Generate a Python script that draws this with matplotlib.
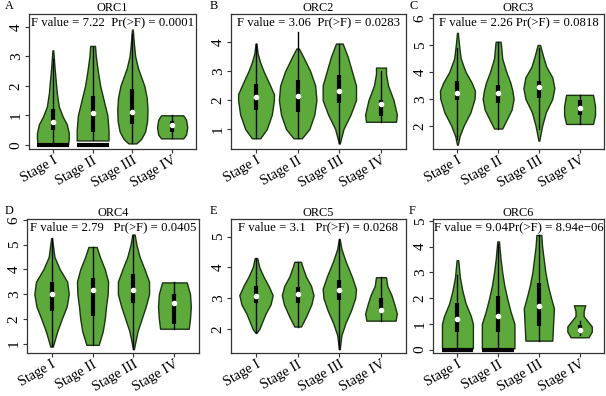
import matplotlib
matplotlib.use("Agg")
from matplotlib import pyplot as plt
from matplotlib.transforms import ScaledTranslation

plt.rcParams['font.family'] = ['Liberation Serif', 'DejaVu Serif']

stages = ["Stage I", "Stage II", "Stage III", "Stage IV"]
genes = ["ORC1", "ORC2", "ORC3", "ORC4", "ORC5", "ORC6"]
letters = ["A", "B", "C", "D", "E", "F"]
f_texts = ["F value = 7.22  Pr(>F) = 0.0001",
           "F value = 3.06  Pr(>F) = 0.0283",
           "F value = 2.26 Pr(>F) = 0.0818",
           "F value = 2.79   Pr(>F) = 0.0405",
           "F value = 3.1   Pr(>F) = 0.0268",
           "F value = 9.04Pr(>F) = 8.94e\u221206"]
ylims = [(-0.14, 4.43), (0.31, 4.97), (1.14, 6.15),
         (0.62, 6.03), (1.22, 5.57), (-0.13, 5.07)]
yticks = [[0, 1, 2, 3, 4], [1, 2, 3, 4], [2, 3, 4, 5, 6],
          [1, 2, 3, 4, 5, 6], [2, 3, 4, 5], [0, 1, 2, 3, 4, 5]]

# violin outlines: expression level and half width
orc1_y = [[0, 0.2, 0.4, 0.7, 0.95, 1.3, 1.75, 2.2, 2.65, 3.2],
          [0.15, 0.5, 1.0, 1.5, 2.0, 2.5, 3.0, 3.35],
          [0.05, 0.2, 0.45, 0.8, 1.2, 1.6, 2.0, 2.3, 2.6, 3.0, 3.4, 3.9],
          [0.22, 0.35, 0.6, 0.85, 1.0]]
orc1_w = [[0.38, 0.40, 0.40, 0.35, 0.25, 0.15, 0.10, 0.07, 0.04, 0.01],
          [0.40, 0.40, 0.37, 0.28, 0.19, 0.13, 0.08, 0.06],
          [0.10, 0.22, 0.32, 0.37, 0.38, 0.36, 0.30, 0.22, 0.14, 0.07, 0.04, 0.01],
          [0.28, 0.35, 0.38, 0.35, 0.28]]
orc2_y = [[0.68, 1.0, 1.5, 2.0, 2.2, 2.5, 3.0, 3.3, 3.6, 3.95],
          [0.68, 1.0, 1.5, 2.0, 2.5, 3.0, 3.5, 3.78],
          [0.5, 1.0, 1.5, 2.0, 2.5, 3.0, 3.5, 3.95],
          [1.25, 1.5, 2.0, 2.5, 2.9, 3.12]]
orc2_w = [[0.10, 0.26, 0.38, 0.43, 0.43, 0.34, 0.18, 0.10, 0.04, 0.01],
          [0.10, 0.28, 0.40, 0.45, 0.42, 0.30, 0.13, 0.03],
          [0.01, 0.10, 0.27, 0.40, 0.40, 0.30, 0.20, 0.08],
          [0.36, 0.38, 0.30, 0.17, 0.12, 0.12]]
orc3_y = [[1.3, 1.6, 2.0, 2.5, 3.0, 3.3, 3.6, 4.0, 4.5, 5.0, 5.45],
          [1.9, 2.2, 2.6, 3.0, 3.3, 3.6, 4.0, 4.5, 5.0, 5.12],
          [1.45, 2.0, 2.5, 3.0, 3.4, 3.8, 4.2, 4.6, 5.0],
          [2.07, 2.4, 2.7, 3.0, 3.15]]
orc3_w = [[0.01, 0.05, 0.15, 0.32, 0.42, 0.43, 0.35, 0.20, 0.08, 0.04, 0.01],
          [0.10, 0.20, 0.33, 0.38, 0.35, 0.30, 0.20, 0.10, 0.07, 0.06],
          [0.01, 0.08, 0.17, 0.33, 0.38, 0.33, 0.18, 0.10, 0.03],
          [0.33, 0.38, 0.38, 0.35, 0.33]]
orc4_y = [[0.88, 1.5, 2.0, 2.5, 3.0, 3.5, 4.0, 4.5, 5.25],
          [0.95, 1.5, 2.0, 2.5, 3.0, 3.5, 4.0, 4.5, 4.9],
          [0.78, 1.5, 2.0, 2.5, 3.0, 3.5, 4.0, 4.5, 5.0, 5.4],
          [1.6, 2.0, 2.5, 3.0, 3.3, 3.47]]
orc4_w = [[0.03, 0.14, 0.25, 0.37, 0.42, 0.38, 0.20, 0.07, 0.01],
          [0.15, 0.25, 0.30, 0.33, 0.37, 0.38, 0.30, 0.18, 0.10],
          [0.01, 0.10, 0.20, 0.30, 0.38, 0.38, 0.27, 0.15, 0.07, 0.03],
          [0.35, 0.38, 0.40, 0.38, 0.33, 0.30]]
orc5_y = [[1.87, 2.0, 2.5, 2.8, 3.1, 3.4, 3.7, 4.0, 4.3],
          [2.08, 2.4, 2.8, 3.1, 3.4, 3.7, 4.0, 4.18],
          [1.35, 1.8, 2.2, 2.6, 3.0, 3.3, 3.7, 4.2, 4.6, 4.92],
          [2.27, 2.5, 2.8, 3.1, 3.4, 3.68]]
orc5_w = [[0.01, 0.08, 0.23, 0.35, 0.40, 0.30, 0.18, 0.08, 0.03],
          [0.08, 0.20, 0.33, 0.38, 0.32, 0.20, 0.12, 0.08],
          [0.01, 0.05, 0.15, 0.28, 0.38, 0.40, 0.30, 0.15, 0.05, 0.01],
          [0.35, 0.38, 0.32, 0.25, 0.15, 0.12]]
orc6_y = [[0.05, 0.5, 1.0, 1.3, 1.8, 2.3, 2.8, 3.47],
          [0.05, 0.5, 1.0, 1.5, 2.0, 2.5, 3.0, 3.5, 4.2],
          [0.35, 1.0, 1.6, 2.0, 2.5, 3.0, 3.5, 4.0, 4.45],
          [0.48, 0.7, 0.9, 1.1, 1.3, 1.5, 1.72]]
orc6_w = [[0.38, 0.38, 0.38, 0.33, 0.20, 0.12, 0.06, 0.02],
          [0.40, 0.40, 0.40, 0.30, 0.22, 0.15, 0.10, 0.06, 0.02],
          [0.33, 0.35, 0.37, 0.30, 0.22, 0.16, 0.12, 0.08, 0.06],
          [0.22, 0.30, 0.30, 0.20, 0.10, 0.10, 0.14]]

# box stats per stage: whisker low, q1, median, q3, whisker high
orc1_box = [(0, 0.5, 0.78, 1.2, 2.9), (0.15, 0.45, 1.08, 1.65, 3.3),
            (0.05, 0.7, 1.12, 1.9, 3.75), (0.22, 0.45, 0.68, 0.8, 1.0)]
orc2_box = [(0.68, 1.65, 2.1, 2.55, 3.95), (0.68, 1.6, 2.13, 2.7, 4.35),
            (0.5, 1.9, 2.3, 2.85, 3.95), (1.25, 1.45, 1.85, 2.0, 3.0)]
orc3_box = [(1.5, 2.95, 3.22, 3.65, 4.9), (1.9, 2.85, 3.23, 3.5, 5.1),
            (1.9, 3.05, 3.45, 3.65, 4.9), (2.07, 2.4, 2.65, 2.95, 3.15)]
orc4_box = [(0.9, 2.3, 3.0, 3.5, 5.25), (0.95, 2.1, 3.15, 3.65, 4.9),
            (0.78, 2.65, 3.18, 3.8, 5.4), (1.6, 1.8, 2.65, 3.0, 3.47)]
orc5_box = [(1.9, 2.85, 3.08, 3.4, 4.3), (2.08, 2.85, 3.13, 3.35, 4.18),
            (1.35, 2.95, 3.25, 3.6, 4.92), (2.27, 2.55, 2.6, 3.0, 3.68)]
orc6_box = [(0, 0.7, 1.18, 1.8, 2.9), (0, 0.7, 1.3, 2.1, 4.1),
            (0.35, 0.92, 1.68, 2.6, 4.45), (0.55, 0.65, 0.78, 0.95, 1.1)]

# half width of the heap of zero values drawn at the bottom
orc1_zero = [0.40, 0.40, 0, 0]
orc6_zero = [0.39, 0.39, 0, 0]
no_zero = [0, 0, 0, 0]

all_y = [orc1_y, orc2_y, orc3_y, orc4_y, orc5_y, orc6_y]
all_w = [orc1_w, orc2_w, orc3_w, orc4_w, orc5_w, orc6_w]
all_box = [orc1_box, orc2_box, orc3_box, orc4_box, orc5_box, orc6_box]
all_zero = [orc1_zero, no_zero, no_zero, no_zero, no_zero, orc6_zero]

W, H = 606, 396
# axes frames in pixels: left, top, right, bottom
frames = [(29, 14, 196, 149), (231, 14, 406, 149), (433, 14, 604, 149),
          (27, 219, 199, 353), (231, 219, 406, 353), (433, 219, 604, 353)]
letter_x = [5, 210, 409, 5, 210, 409]

fill = "#5BAA3A"
edge = "#1B3312"

fig = plt.figure(figsize=(W / 100, H / 100), dpi=100)

for i in range(6):
    l, t, r, b = frames[i]
    ax = fig.add_axes([l / W, 1 - b / H, (r - l) / W, (b - t) / H])
    for j in range(4):
        c = j + 1
        ys = all_y[i][j]
        ws = all_w[i][j]
        ax.fill_betweenx(ys, [c - w for w in ws], [c + w for w in ws],
                         facecolor=fill, edgecolor=edge, lw=1.0, zorder=2)
        lo, q1, med, q3, hi = all_box[i][j]
        ax.plot([c, c], [lo, hi], color="black", lw=1.0, zorder=3)
        ax.plot([c, c], [q1, q3], color="black", lw=3.0,
                solid_capstyle="butt", zorder=3)
        ax.plot(c, med, marker="o", ms=3.0, color="white", mec="white", zorder=4)
        z = all_zero[i][j]
        if z > 0:
            ax.plot([c - z, c + z], [0, 0], color="black", lw=3.0,
                    solid_capstyle="butt", zorder=4)

    ax.set_xlim(0.4, 4.6)
    ax.set_ylim(*ylims[i])
    ax.set_yticks(yticks[i])
    ax.set_yticklabels([str(v) for v in yticks[i]], rotation=90,
                       va="center", fontsize=11)
    ax.set_xticks([1, 2, 3, 4])
    ax.set_xticklabels(stages, rotation=30, ha="right", va="top",
                       rotation_mode="anchor", fontsize=10.3)
    shift = ScaledTranslation(0.08, 0, fig.dpi_scale_trans)
    for lab in ax.get_xticklabels():
        lab.set_transform(lab.get_transform() + shift)
    ax.tick_params(axis="x", pad=0.5)
    ax.tick_params(length=3, width=0.8, colors="#333333",
                   labelcolor="black")
    ax.tick_params(axis="y", pad=1.5)
    for s in ax.spines.values():
        s.set_color("#333333")
        s.set_linewidth(0.9)

    ax.text(0.5, 0.935, f_texts[i], transform=ax.transAxes,
            ha="center", va="center", fontsize=9.2)
    ax.set_title(genes[i], fontsize=8.8, pad=2)
    fig.text(letter_x[i] / W, 1 - (t - 8) / H, letters[i],
             fontsize=8.8, ha="left", va="center")

fig.savefig("out.png", dpi=100)
